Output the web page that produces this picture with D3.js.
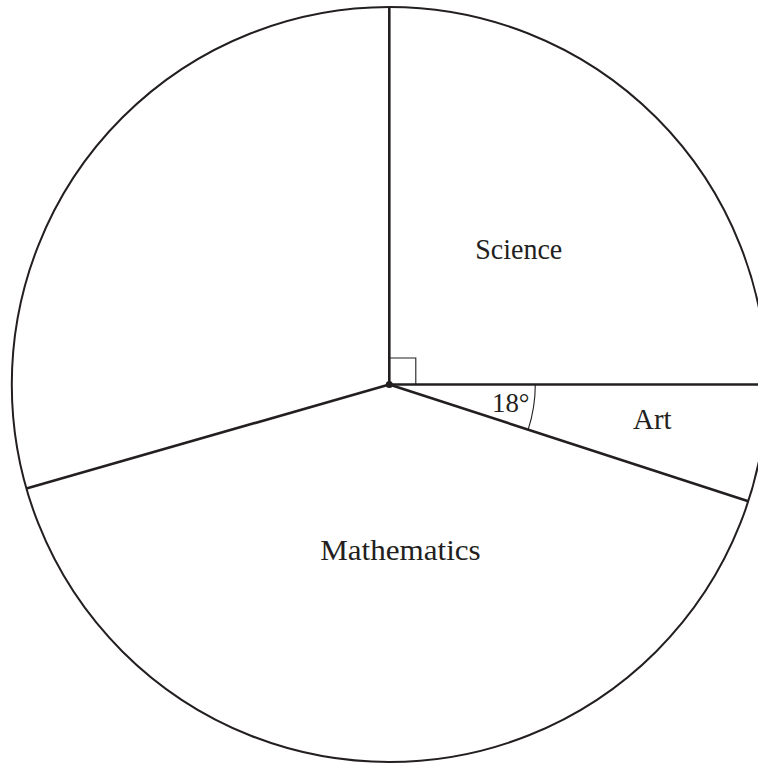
<!DOCTYPE html>
<html>
<head>
<meta charset="utf-8">
<script src="https://cdn.jsdelivr.net/npm/d3@7"></script>
<style>
  html, body { margin: 0; padding: 0; background: #fff; }
  svg { display: block; }
  text { font-family: "Liberation Serif", "Times New Roman", serif; fill: #231f20; }
</style>
</head>
<body>
<svg id="chart" width="758" height="765"></svg>
<script>
// sectors, clockwise from the top
let subjects = ["Science", "Art", "Mathematics", ""];
let angles = [90, 18, 146, 106];
let markedAngle = "18°";

let width = 758, height = 765;
let cx = 389.3, cy = 384.5, radius = 377.5;
let ink = "#231f20";

// label layout: radius fraction, nudge, and drawn width
let labelRadius = { "Science": 0.485, "Art": 0.70, "Mathematics": 0.44 };
let labelNudge = { "Science": [0, -5], "Art": [2, -5.5], "Mathematics": [14, 0] };
let labelWidth = { "Science": 87, "Art": 38.5, "Mathematics": 160.5 };

let svg = d3.select("#chart");
let g = svg.append("g").attr("transform", "translate(" + cx + "," + cy + ")");

let pie = d3.pie().sort(null).value(d => d.angle);
let slices = pie(subjects.map((s, i) => ({ name: s, angle: angles[i] })));

let point = (a, r) => [r * Math.sin(a), -r * Math.cos(a)];

// outer circle
g.append("circle")
  .attr("r", radius)
  .attr("fill", "none")
  .attr("stroke", ink)
  .attr("stroke-width", 2);

// radii
g.selectAll("line.radius")
  .data(slices)
  .enter()
  .append("line")
  .attr("class", "radius")
  .attr("x1", 0).attr("y1", 0)
  .attr("x2", d => point(d.startAngle, radius)[0])
  .attr("y2", d => point(d.startAngle, radius)[1])
  .attr("stroke", ink)
  .attr("stroke-width", 2.6);

// centre dot
g.append("circle").attr("r", 3.5).attr("fill", ink);

// right angle marker on the 90 degree sector
let sq = 26.5;
let right = slices.find(d => d.data.angle === 90);
if (right) {
  let a = point(right.startAngle, sq), b = point(right.endAngle, sq);
  g.append("path")
    .attr("d", "M" + a[0] + "," + a[1] + "L" + (a[0] + b[0]) + "," + (a[1] + b[1]) + "L" + b[0] + "," + b[1])
    .attr("fill", "none")
    .attr("stroke", ink)
    .attr("stroke-width", 1.1);
}

// angle arc and label for the marked sector
let art = slices[1];
g.append("path")
  .attr("d", d3.arc().innerRadius(146).outerRadius(146)(art))
  .attr("fill", "none")
  .attr("stroke", ink)
  .attr("stroke-width", 1.1);

let mid = (art.startAngle + art.endAngle) / 2;
let mp = point(mid, 123);
g.append("text")
  .attr("x", mp[0])
  .attr("y", mp[1] + 8)
  .attr("text-anchor", "middle")
  .attr("font-size", 28)
  .attr("textLength", 37.5)
  .attr("lengthAdjust", "spacingAndGlyphs")
  .text(markedAngle);

// sector labels
let labelPos = d => {
  let p = point((d.startAngle + d.endAngle) / 2, labelRadius[d.data.name] * radius);
  let n = labelNudge[d.data.name];
  return [p[0] + n[0], p[1] + 9 + n[1]];
};

g.selectAll("text.label")
  .data(slices.filter(d => d.data.name))
  .enter()
  .append("text")
  .attr("class", "label")
  .attr("x", d => labelPos(d)[0])
  .attr("y", d => labelPos(d)[1])
  .attr("text-anchor", "middle")
  .attr("font-size", 30)
  .attr("textLength", d => labelWidth[d.data.name])
  .attr("lengthAdjust", "spacingAndGlyphs")
  .text(d => d.data.name);
</script>
</body>
</html>
